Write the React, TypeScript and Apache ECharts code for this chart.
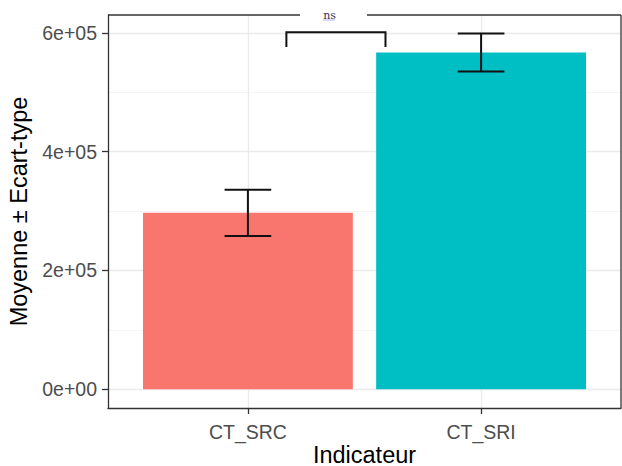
import React, { useEffect, useRef } from 'react';
import * as echarts from 'echarts';

const categories = ['CT_SRC', 'CT_SRI'];
const means = [297000, 567000];
const sds = [39000, 32000];
const barColors = ['#F8766D', '#00BFC4'];
const yTicks = [0, 200000, 400000, 600000];
const yTickLabels = ['0e+00', '2e+05', '4e+05', '6e+05'];
const yMinorGrid = [100000, 300000, 500000];
const bracketX = [1.165, 1.59];
const bracketY = [576000, 601000];
const sigLabel = 'ns';
const sigLabelX = 1.35;
const yMin = -31500;
const yMax = 630000;

const FONT = '"Liberation Sans", Arial, sans-serif';

export default function App() {
  const ref = useRef<HTMLDivElement>(null);
  useEffect(() => {
    if (!ref.current) return;
    const chart = echarts.init(ref.current, null, { renderer: 'svg' });
    const catPos = categories.map((_, i) => i + 1);
    const major = { color: '#EBEBEB', width: 1.3, type: 'solid' };
    const minor = { color: '#F2F2F2', width: 0.8, type: 'solid' };
    const left = 108;
    const right = 621;
    const top = 15;
    const bottom = 408;
    chart.setOption({
      animation: false,
      grid: {
        left,
        top,
        width: right - left,
        height: bottom - top,
        containLabel: false,
        outerBoundsMode: 'none',
      },
      xAxis: {
        type: 'value',
        min: 0.4,
        max: 2.6,
        name: 'Indicateur',
        nameLocation: 'middle',
        nameGap: 37,
        nameMoveOverlap: false,
        nameTextStyle: { fontSize: 23.5, lineHeight: 20, color: '#000', fontFamily: FONT },
        axisLine: { show: true, onZero: false, lineStyle: { color: '#333333', width: 1.3 } },
        axisTick: { show: true, length: 6, customValues: catPos, lineStyle: { color: '#333333', width: 1.3 } },
        axisLabel: {
          customValues: catPos,
          formatter: (v: number) => categories[Math.round(v) - 1] ?? '',
          fontSize: 19.5,
          color: '#4D4D4D',
          fontFamily: FONT,
          margin: 14,
        },
        splitLine: { show: false },
      },
      yAxis: {
        type: 'value',
        min: yMin,
        max: yMax,
        name: 'Moyenne ± Ecart-type',
        nameLocation: 'middle',
        nameGap: 73,
        nameTextStyle: { fontSize: 23.5, color: '#000', fontFamily: FONT },
        axisLine: { show: true, onZero: false, lineStyle: { color: '#333333', width: 1.3 } },
        axisTick: { show: true, length: 6, customValues: yTicks, lineStyle: { color: '#333333', width: 1.3 } },
        axisLabel: {
          customValues: yTicks,
          formatter: (v: number) => {
            const i = yTicks.indexOf(v);
            return i >= 0 ? yTickLabels[i] : '';
          },
          fontSize: 19.5,
          color: '#4D4D4D',
          fontFamily: FONT,
          margin: 11,
        },
        splitLine: { show: false },
      },
      graphic: [
        { type: 'line', shape: { x1: left, y1: top, x2: 300, y2: top }, style: { stroke: '#333333', lineWidth: 1.3 }, z: 50 },
        { type: 'line', shape: { x1: 367, y1: top, x2: right, y2: top }, style: { stroke: '#333333', lineWidth: 1.3 }, z: 50 },
        { type: 'line', shape: { x1: right, y1: top, x2: right, y2: bottom }, style: { stroke: '#333333', lineWidth: 1.3 }, z: 50 },
      ],
      series: [
        {
          type: 'line',
          data: [],
          z: 0,
          silent: true,
          markLine: {
            silent: true,
            z: 0,
            zlevel: 0,
            symbol: ['none', 'none'],
            label: { show: false },
            animation: false,
            data: [
              ...yMinorGrid.map((v) => ({ yAxis: v, lineStyle: minor })),
              ...yTicks.map((v) => ({ yAxis: v, lineStyle: major })),
              ...catPos.map((x) => ({ xAxis: x, lineStyle: major })),
            ],
          },
        },
        {
          type: 'custom',
          z: 10,
          data: categories.map((_, i) => [i + 1, means[i]]),
          renderItem: (params: any, api: any) => {
            const x = api.value(0);
            const v = api.value(1);
            const p0 = api.coord([x - 0.45, v]);
            const p1 = api.coord([x + 0.45, 0]);
            return {
              type: 'rect',
              shape: { x: p0[0], y: p0[1], width: p1[0] - p0[0], height: p1[1] - p0[1] },
              style: { fill: barColors[params.dataIndex] },
            };
          },
        },
        {
          type: 'custom',
          z: 11,
          data: categories.map((_, i) => [i + 1, means[i] - sds[i], means[i] + sds[i]]),
          renderItem: (params: any, api: any) => {
            const x = api.value(0);
            const lo = api.value(1);
            const hi = api.value(2);
            const a = api.coord([x - 0.1, hi]);
            const b = api.coord([x + 0.1, hi]);
            const c = api.coord([x - 0.1, lo]);
            const d = api.coord([x + 0.1, lo]);
            const m1 = api.coord([x, hi]);
            const m2 = api.coord([x, lo]);
            const st = { stroke: '#111111', lineWidth: 2 };
            return {
              type: 'group',
              children: [
                { type: 'line', shape: { x1: a[0], y1: a[1], x2: b[0], y2: b[1] }, style: st },
                { type: 'line', shape: { x1: c[0], y1: c[1], x2: d[0], y2: d[1] }, style: st },
                { type: 'line', shape: { x1: m1[0], y1: m1[1], x2: m2[0], y2: m2[1] }, style: st },
              ],
            };
          },
        },
        {
          type: 'custom',
          z: 12,
          data: [[bracketX[0], bracketX[1], bracketY[0], bracketY[1]]],
          renderItem: (params: any, api: any) => {
            const x0 = api.value(0);
            const x1 = api.value(1);
            const y0 = api.value(2);
            const y1 = api.value(3);
            const pts = [api.coord([x0, y0]), api.coord([x0, y1]), api.coord([x1, y1]), api.coord([x1, y0])];
            const tp = api.coord([sigLabelX, yMax]);
            return {
              type: 'group',
              children: [
                { type: 'polyline', shape: { points: pts }, style: { stroke: '#111111', lineWidth: 2, fill: 'none' } },
                {
                  type: 'text',
                  x: tp[0],
                  y: tp[1],
                  style: {
                    text: sigLabel,
                    fontSize: 11,
                    fontFamily: '"DejaVu Serif", serif',
                    fill: '#333355',
                    align: 'center',
                    verticalAlign: 'middle',
                  },
                },
                {
                  type: 'line',
                  shape: { x1: tp[0] - 6, y1: tp[1] + 5, x2: tp[0] + 6, y2: tp[1] + 5 },
                  style: { stroke: '#6a6ad8', lineWidth: 1, lineDash: [1, 1] },
                },
              ],
            };
          },
        },
      ],
    });
    return () => chart.dispose();
  }, []);
  return (
    <div
      ref={ref}
      style={{ position: 'fixed', left: 0, top: 0, width: 622, height: 466, background: '#fff' }}
    />
  );
}
